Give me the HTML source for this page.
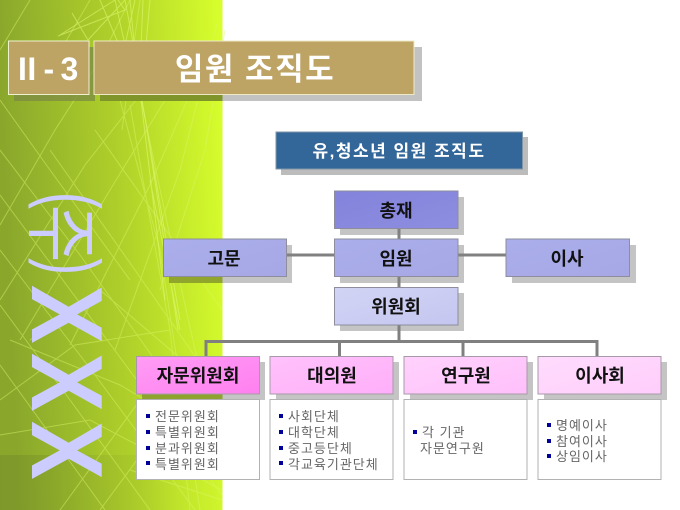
<!DOCTYPE html>
<html lang="ko"><head><meta charset="utf-8"><style>
html,body{margin:0;padding:0;background:#fff}
svg{display:block}
text{font-family:"Liberation Sans","Noto Sans CJK KR",sans-serif;text-anchor:middle;font-weight:700}
.l{font-size:13px;font-weight:400;fill:#666;text-anchor:start;letter-spacing:1px}
.n{font-size:18px;fill:#111}
.x{font-size:101px;fill:#ccccff;text-anchor:start;font-family:"Liberation Sans",sans-serif}
</style></head><body>
<svg width="680" height="510" viewBox="0 0 680 510" xmlns="http://www.w3.org/2000/svg">
<defs>
<linearGradient id="bg" x1="0" y1="0.15" x2="1" y2="0.05"><stop offset="0" stop-color="#8aa72c"/><stop offset=".5" stop-color="#aecf2a"/><stop offset="1" stop-color="#d8ff2c"/></linearGradient>
<linearGradient id="dark" x1="0" y1="0" x2="1" y2="0"><stop offset="0" stop-color="#5c6e22" stop-opacity=".25"/><stop offset=".8" stop-color="#5c6e22" stop-opacity="0"/></linearGradient>
<linearGradient id="g1" x1="0" y1="0" x2="1" y2="1"><stop offset="0" stop-color="#8383dc"/><stop offset="1" stop-color="#8d8de0"/></linearGradient>
<linearGradient id="g2" x1="0" y1="0" x2="1" y2="1"><stop offset="0" stop-color="#aaaeea"/><stop offset="1" stop-color="#a6a8e6"/></linearGradient>
<linearGradient id="g3" x1="0" y1="0" x2="1" y2="1"><stop offset="0" stop-color="#d2d4f5"/><stop offset="1" stop-color="#c4c6f0"/></linearGradient>
<linearGradient id="p1" x1="0" y1="0" x2="1" y2="1"><stop offset="0" stop-color="#ff9cf5"/><stop offset="1" stop-color="#ff80f0"/></linearGradient>
<linearGradient id="p2" x1="0" y1="0" x2="1" y2="1"><stop offset="0" stop-color="#ffc2fb"/><stop offset="1" stop-color="#ffaefa"/></linearGradient>
<linearGradient id="p3" x1="0" y1="0" x2="1" y2="1"><stop offset="0" stop-color="#ffd2fc"/><stop offset="1" stop-color="#ffbffb"/></linearGradient>
<linearGradient id="p4" x1="0" y1="0" x2="1" y2="1"><stop offset="0" stop-color="#ffdcfd"/><stop offset="1" stop-color="#ffcdfc"/></linearGradient>
</defs>

<rect x="0" y="0" width="222.500" height="510" fill="url(#bg)"/>
<rect x="0" y="455" width="222" height="55" fill="url(#dark)"/>

<g stroke="#dcf76a" stroke-width="1" fill="none" opacity=".45">
<path d="M0 150L80 255L155 360L222 455M0 195L85 310L170 425L222 495M0 250L95 375L195 510M0 305L70 400L150 510M0 365L105 510M50 150L135 270L215 385M95 130L180 250L222 310M0 100L50 170L130 280"/>
<path d="M0 225L55 130L100 60L130 0M0 300L85 165L140 95M20 340L110 190L165 100M70 345L150 185L205 60M115 350L180 170L218 20M160 290L205 150L225 30M30 0L0 50M90 0L55 60"/>
<path d="M140 0L122 130M130 105L143 180L170 330L190 510M120 100L160 250L200 510M140 95L175 260L222 470"/>
<path d="M0 400L75 345L170 330M30 340L100 290L200 375L222 400M10 340L120 385L222 445M0 435L90 420L222 490M100 510L185 395M60 510L140 400M130 470L222 500"/>
</g>
<g stroke="#e4fb76" stroke-width="1" fill="none" opacity=".55">
<path d="M60 35L115 0M58 36L125 10L118 0M72 13L88 40L125 0M100 0L140 95M115 0L125 45L135 0M125 0L142 90L150 0M130 0L139 95L143 0"/>
<path d="M142 100L180 320M147 130L178 330M141 100L165 300M150 180L180 330"/>
</g>

<g>
<text transform="translate(45,192) rotate(90) scale(.65,1)" style="font-size:79px;font-weight:400;fill:#ccccff;text-anchor:start;font-family:'Liberation Sans',sans-serif">(</text>
<text transform="translate(35,233.500) rotate(90) scale(.85,1)" style="font-size:74px;font-weight:400;fill:#ccccff;font-family:'Noto Sans CJK KR',sans-serif">주</text>
<text transform="translate(45,258) rotate(90) scale(.65,1)" style="font-size:79px;font-weight:400;fill:#ccccff;text-anchor:start;font-family:'Liberation Sans',sans-serif">)</text>
<text class="x" transform="translate(32,285) rotate(90) scale(.87,1)">X</text>
<text class="x" transform="translate(32,353) rotate(90) scale(.87,1)">X</text>
<text class="x" transform="translate(32,421) rotate(90) scale(.87,1)">X</text>
</g>

<!-- Top title -->
<rect x="14" y="47" width="81" height="54" fill="#7c8a45" opacity=".75"/>
<rect x="100" y="47" width="322" height="54" fill="#c2c2c2"/>
<rect x="100" y="47" width="122.500" height="54" fill="#7f9429"/>
<rect x="8.500" y="41" width="80.500" height="53.500" fill="#bda364" stroke="#eef2cf" stroke-width="1"/>
<rect x="94" y="41" width="320" height="53.500" fill="#bda364" stroke="#eee9c5" stroke-width="1"/>
<text x="18" y="80" style="font-size:32px;fill:#fff;text-anchor:start;letter-spacing:.500px;font-family:'Liberation Sans',sans-serif">II</text>
<text x="43.500" y="80" style="font-size:32px;fill:#fff;text-anchor:start;font-family:'Liberation Sans',sans-serif">-</text>
<text x="60.500" y="80" style="font-size:32px;fill:#fff;text-anchor:start;font-family:'Liberation Sans',sans-serif">3</text>
<text x="255" y="80" style="font-size:31px;fill:#fff;letter-spacing:1.500px">임원 조직도</text>

<!-- Subtitle -->
<rect x="281" y="137" width="247" height="38" fill="#bcbcbc"/>
<rect x="276" y="132" width="246.500" height="37" fill="#336699" stroke="#7f95a8"/>
<text x="399" y="157" style="font-size:17px;fill:#fff;letter-spacing:1.500px">유,청소년 임원 조직도</text>

<!-- shadows -->
<g fill="#c4c4c4">
<rect x="340" y="197" width="124" height="38"/>
<rect x="340" y="245" width="124" height="38"/>
<rect x="340" y="293" width="124" height="38"/>
<rect x="169" y="245" width="123" height="38"/>
<rect x="512" y="245" width="124" height="38"/>
<rect x="142" y="362" width="123" height="38"/>
<rect x="276" y="362" width="123" height="38"/>
<rect x="410" y="362" width="123" height="38"/>
<rect x="544" y="362" width="123" height="38"/>
</g>
<rect x="169" y="277" width="53.500" height="6" fill="#8fa52c"/>
<rect x="142" y="394" width="80.500" height="6" fill="#8ea22e"/>

<!-- connectors -->
<g stroke="#808080" stroke-width="3" fill="none">
<path d="M399 225V290M286 255H506M399 322V340M206 358V341.500H597V358M339.500 341.500V358M463 341.500V358"/>
</g>

<!-- nodes -->
<g stroke="#8d8d9d" stroke-width="1">
<rect x="334.500" y="191" width="123.500" height="37.500" fill="url(#g1)"/>
<rect x="334.500" y="239" width="123.500" height="37.500" fill="url(#g2)"/>
<rect x="334.500" y="287.500" width="123.500" height="37.500" fill="url(#g3)"/>
<rect x="163.500" y="239" width="123" height="37.500" fill="url(#g2)"/>
<rect x="506" y="239" width="123.500" height="37.500" fill="url(#g2)"/>
</g>
<g stroke="#a79aa8" stroke-width="1">
<rect x="136.500" y="356.500" width="123" height="37.500" fill="url(#p1)"/>
<rect x="270" y="356.500" width="123" height="37.500" fill="url(#p2)"/>
<rect x="404" y="356.500" width="123" height="37.500" fill="url(#p3)"/>
<rect x="538" y="356.500" width="123" height="37.500" fill="url(#p4)"/>
</g>

<text class="n" x="396" y="217">총재</text>
<text class="n" x="396" y="265">임원</text>
<text class="n" x="396" y="313">위원회</text>
<text class="n" x="224" y="265">고문</text>
<text class="n" x="567" y="265">이사</text>
<text class="n" x="198" y="382">자문위원회</text>
<text class="n" x="332" y="382">대의원</text>
<text class="n" x="466" y="382">연구원</text>
<text class="n" x="600" y="382">이사회</text>

<!-- lists -->
<g fill="#fff" stroke="#b2b2b2" stroke-width="1">
<rect x="136.500" y="399.500" width="123" height="80"/>
<rect x="270" y="399.500" width="123" height="80"/>
<rect x="404" y="399.500" width="123" height="80"/>
<rect x="538" y="399.500" width="123" height="80"/>
</g>
<g fill="#000099">
<rect x="146" y="414" width="4" height="4"/><rect x="146" y="430" width="4" height="4"/><rect x="146" y="446" width="4" height="4"/><rect x="146" y="461" width="4" height="4"/>
<rect x="279" y="414" width="4" height="4"/><rect x="279" y="430" width="4" height="4"/><rect x="279" y="446" width="4" height="4"/><rect x="279" y="461" width="4" height="4"/>
<rect x="413" y="430" width="4" height="4"/>
<rect x="547" y="423" width="4" height="4"/><rect x="547" y="439" width="4" height="4"/><rect x="547" y="454" width="4" height="4"/>
</g>
<text class="l" x="155" y="421">전문위원회</text>
<text class="l" x="155" y="437">특별위원회</text>
<text class="l" x="155" y="453">분과위원회</text>
<text class="l" x="155" y="469">특별위원회</text>
<text class="l" x="288" y="421">사회단체</text>
<text class="l" x="288" y="437">대학단체</text>
<text class="l" x="288" y="453">중고등단체</text>
<text class="l" x="288" y="469">각교육기관단체</text>
<text class="l" x="422" y="437">각 기관</text>
<text class="l" x="420" y="453">자문연구원</text>
<text class="l" x="556" y="430">명예이사</text>
<text class="l" x="556" y="446">참여이사</text>
<text class="l" x="556" y="461">상임이사</text>
</svg>
</body></html>
